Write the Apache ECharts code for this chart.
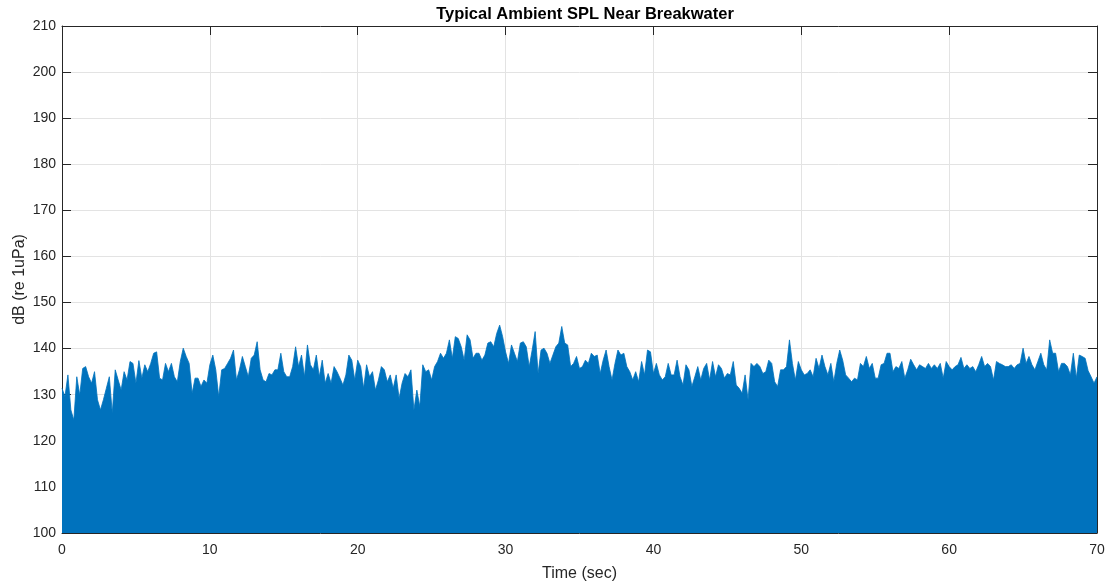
<!DOCTYPE html>
<html>
<head>
<meta charset="utf-8">
<script src="https://cdn.jsdelivr.net/npm/echarts@6/dist/echarts.min.js"></script>
<style>html,body{margin:0;padding:0;background:#fff;overflow:hidden}#c{width:1113px;height:587px}</style>
</head>
<body>
<div id="c"></div>
<script>
const stepSec = 0.2;
const spl_00_12 = [131.4,129.6,134.3,126.7,124.5,133.9,129.9,135.7,136.1,133.9,132.5,135.0,128.9,126.7,128.9,131.4,133.9,126.0,135.4,133.2,131.0,135.0,133.2,137.2,136.8,132.5,137.4,133.6,136.5,135.0,136.8,139.0,139.3,133.6,133.2,136.8,135.0,136.8,133.9,132.8,137.2,140.1,138.3,136.8,130.3,133.6,133.6,131.8,133.2,132.5,136.5,138.6,135.4,129.6,135.4,135.7,136.8,137.9,139.7];
const spl_12_24 = [133.2,135.4,138.3,136.1,133.9,137.9,138.6,141.5,135.4,133.2,132.8,134.6,134.3,135.4,135.4,139.0,135.0,133.9,133.9,136.1,140.4,136.1,138.6,133.9,140.8,136.5,135.4,138.6,133.9,137.5,132.5,134.6,132.5,136.1,135.0,133.6,132.1,134.3,138.6,137.5,133.2,137.5,136.1,131.4,136.5,133.9,135.0,131.0,133.2,136.1,135.4,132.8,134.3,131.4,134.3,129.2,132.5,134.6,133.9];
const spl_24_35 = [135.4,126.7,131.0,127.4,136.5,135.0,135.4,133.2,136.1,137.2,139.0,137.9,139.0,141.9,137.9,142.6,142.2,140.4,137.5,143.0,141.9,137.9,139.0,139.0,137.5,138.6,141.2,141.5,140.4,143.3,145.1,142.6,139.3,136.8,140.8,139.0,137.2,141.2,141.5,140.4,136.1,139.7,143.7,134.6,139.7,140.1,139.0,136.8,138.6,140.4,141.2,144.8,141.2,140.8,136.1,136.8,138.3,135.7,136.1];
const spl_35_47 = [137.5,136.8,139.0,138.3,138.6,134.6,137.5,139.7,136.1,133.2,136.8,139.7,138.6,139.0,136.1,135.0,133.2,135.0,132.8,137.2,134.3,139.7,139.3,134.6,136.8,134.3,133.2,133.9,136.8,134.3,134.3,137.5,133.9,132.1,136.5,135.4,131.8,133.9,136.1,133.2,135.7,136.8,133.2,137.2,133.9,136.5,135.7,133.6,134.6,134.3,137.2,132.1,131.4,130.3,134.3,128.9,136.8,136.1,136.8,136.1];
const spl_47_59 = [134.6,135.0,137.5,136.8,132.8,131.8,135.4,135.4,136.1,141.9,136.8,133.2,137.2,135.4,134.3,134.6,135.4,133.9,137.9,135.7,138.6,136.1,134.3,136.8,132.8,136.8,139.7,137.5,134.3,133.6,132.8,133.6,133.2,136.8,136.1,138.3,135.7,136.8,133.6,133.6,136.5,136.8,139.0,139.0,135.0,136.1,135.7,137.2,133.6,135.4,137.7,136.5,135.4,136.5,136.1,135.7,136.8,135.7,136.5];
const spl_59_70 = [135.7,136.8,133.6,137.2,136.1,135.4,136.1,136.5,138.1,135.7,136.5,135.7,136.1,135.0,136.5,138.3,136.1,136.8,136.1,133.2,137.2,136.8,136.5,136.1,136.1,136.5,135.7,136.5,136.8,140.1,136.8,138.3,136.5,135.4,137.2,139.0,136.5,135.4,141.9,139.0,139.0,135.0,136.8,136.8,136.1,134.3,139.0,133.6,138.6,138.3,137.9,135.2,133.9,132.5,133.9];
const xTicks = [0,10,20,30,40,50,60,70];
const yTicks = [100,110,120,130,140,150,160,170,180,190,200,210];

const spl = [].concat(spl_00_12, spl_12_24, spl_24_35, spl_35_47, spl_47_59, spl_59_70);
const seriesData = spl.map((v, i) => [+(i * stepSec).toFixed(2), v]);

const FONT = '"Liberation Sans", Arial, Helvetica, sans-serif';
const AX = '#262626';
const GRID = '#e3e3e3';

const chart = echarts.init(document.getElementById('c'), null, {renderer: 'canvas'});
const baseX = {
  type: 'value', min: xTicks[0], max: xTicks[xTicks.length - 1], interval: 10,
  axisLine: {show: true, onZero: false, lineStyle: {color: AX, width: 1}},
  axisTick: {show: true, inside: true, length: 9, lineStyle: {color: AX}},
  splitLine: {show: false}
};
const baseY = {
  type: 'value', min: yTicks[0], max: yTicks[yTicks.length - 1], interval: 10,
  axisLine: {show: true, onZero: false, lineStyle: {color: AX, width: 1}},
  axisTick: {show: true, inside: true, length: 9, lineStyle: {color: AX}},
  splitLine: {show: false}
};
chart.setOption({
  animation: false,
  backgroundColor: '#ffffff',
  title: {
    text: 'Typical Ambient SPL Near Breakwater',
    left: 580, top: 1, textAlign: 'center',
    textStyle: {fontFamily: FONT, fontSize: 16.5, fontWeight: 'bold', color: '#000000'}
  },
  grid: {left: 62, right: 16, top: 26, bottom: 54, containLabel: false, outerBoundsMode: 'none'},
  xAxis: [
    Object.assign({}, baseX, {
      position: 'bottom',
      name: 'Time (sec)', nameLocation: 'middle', nameGap: 33, nameMoveOverlap: false,
      nameTextStyle: {fontFamily: FONT, fontSize: 16, color: AX},
      axisLabel: {show: true, margin: 10, fontFamily: FONT, fontSize: 14, color: AX},
      splitLine: {show: true, lineStyle: {color: GRID, width: 1}}
    }),
    Object.assign({}, baseX, {position: 'top', axisLabel: {show: false}})
  ],
  yAxis: [
    Object.assign({}, baseY, {
      position: 'left',
      name: 'dB (re 1uPa)', nameLocation: 'middle', nameGap: 34, nameMoveOverlap: false,
      nameTextStyle: {fontFamily: FONT, fontSize: 16, color: AX},
      axisLabel: {show: true, margin: 6, fontFamily: FONT, fontSize: 14, color: AX},
      splitLine: {show: true, lineStyle: {color: GRID, width: 1}}
    }),
    Object.assign({}, baseY, {position: 'right', axisLabel: {show: false}})
  ],
  series: [{
    type: 'line',
    xAxisIndex: 0, yAxisIndex: 0,
    data: seriesData,
    showSymbol: false,
    symbol: 'none',
    sampling: null,
    lineStyle: {color: '#0072BD', width: 0.8},
    areaStyle: {color: '#0072BD', opacity: 1, origin: 'start'},
    z: 2
  }]
});
</script>
</body>
</html>
